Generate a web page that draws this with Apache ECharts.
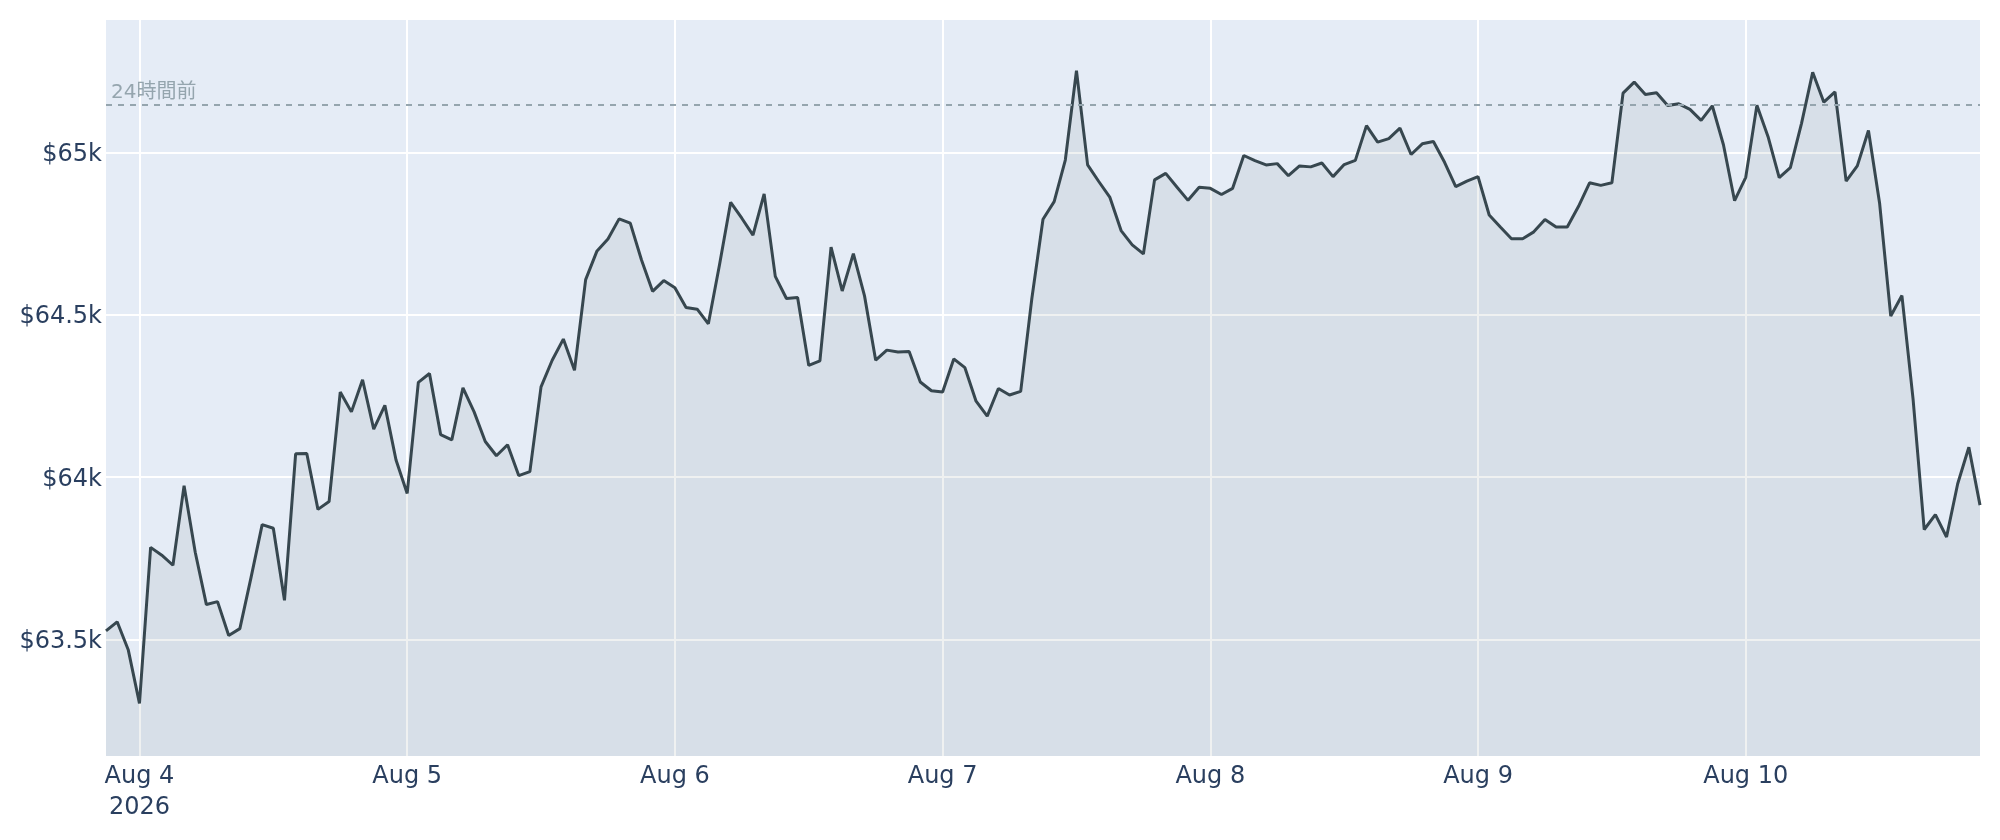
<!DOCTYPE html>
<html>
<head>
<meta charset="utf-8">
<script src="https://cdn.jsdelivr.net/npm/echarts@6/dist/echarts.min.js"></script>
<style>
html,body{margin:0;padding:0;background:#fff;}
#chart{width:2000px;height:840px;}
</style>
</head>
<body>
<div id="chart"></div>
<script>
// hourly prices, first point = Aug 3 2026 21:00 (hour -3 relative to Aug 4 00:00)
const START_HOUR = -3;
const prices = [
  63527, 63555, 63468,
  // Aug 4
  63304, 63784, 63760, 63729, 63974, 63769, 63608, 63617, 63513, 63534, 63691, 63854,
  63843, 63621, 64072, 64073, 63901, 63925, 64262, 64201, 64300, 64148, 64221, 64053,
  // Aug 5
  63950, 64292, 64319, 64131, 64115, 64275, 64201, 64110, 64066, 64100, 64005, 64017,
  64278, 64360, 64425, 64329, 64608, 64695, 64733, 64795, 64782, 64669, 64572, 64605,
  // Aug 6
  64583, 64522, 64517, 64472, 64654, 64846, 64797, 64745, 64872, 64618, 64550, 64553,
  64344, 64358, 64708, 64573, 64688, 64558, 64360, 64391, 64385, 64387, 64293, 64266,
  // Aug 7
  64262, 64364, 64337, 64234, 64188, 64273, 64253, 64264, 64550, 64794, 64848, 64976,
  65251, 64961, 64910, 64861, 64759, 64715, 64687, 64915, 64935, 64893, 64852, 64892,
  // Aug 8
  64889, 64870, 64889, 64990, 64974, 64961, 64965, 64928, 64958, 64955, 64967, 64925,
  64962, 64975, 65082, 65031, 65042, 65074, 64993, 65026, 65033, 64969, 64894, 64911,
  // Aug 9
  64925, 64807, 64770, 64734, 64734, 64755, 64793, 64770, 64770, 64833, 64906, 64898,
  64906, 65182, 65216, 65178, 65183, 65144, 65149, 65132, 65098, 65143, 65023, 64851,
  // Aug 10
  64923, 65145, 65048, 64922, 64953, 65089, 65246, 65154, 65186, 64911, 64958, 65067,
  64843, 64496, 64559, 64240, 63839, 63885, 63816, 63980, 64092, 63914
];
const dayTickHours = [0, 24, 48, 72, 96, 120, 144];
const dayTickLabels = ['Aug 4\n2026', 'Aug 5', 'Aug 6', 'Aug 7', 'Aug 8', 'Aug 9', 'Aug 10'];
const priceTicks = [63500, 64000, 64500, 65000];
const refPrice = 65145;
const refLabel = '24時間前';
const yMin = 63142, yMax = 65407;

const seriesData = prices.map((p, i) => [START_HOUR + i, p]);
const xMin = START_HOUR, xMax = START_HOUR + prices.length - 1;

const FONT = "'DejaVu Sans', 'Noto Sans CJK JP', sans-serif";
const chart = echarts.init(document.getElementById('chart'), null, {renderer: 'canvas'});
chart.setOption({
  animation: false,
  backgroundColor: '#ffffff',
  grid: {
    left: 106, right: 20, top: 20, bottom: 84,
    show: true, backgroundColor: '#E5ECF6', borderWidth: 0
  },
  xAxis: {
    type: 'value',
    min: xMin, max: xMax,
    axisLine: {show: false},
    axisTick: {show: false, customValues: dayTickHours},
    splitLine: {show: true, lineStyle: {color: '#ffffff', width: 2}},
    axisLabel: {
      customValues: dayTickHours,
      margin: 5,
      color: '#2a3f5f',
      fontSize: 24,
      lineHeight: 31,
      fontFamily: FONT,
      formatter: function (v) {
        const idx = dayTickHours.indexOf(v);
        return idx >= 0 ? dayTickLabels[idx] : '';
      }
    }
  },
  yAxis: {
    type: 'value',
    min: yMin, max: yMax,
    axisLine: {show: false},
    axisTick: {show: false, customValues: priceTicks},
    splitLine: {show: true, lineStyle: {color: '#ffffff', width: 2}},
    axisLabel: {
      customValues: priceTicks,
      margin: 4,
      color: '#2a3f5f',
      fontSize: 24,
      fontFamily: FONT,
      verticalAlign: 'top',
      lineHeight: 5,
      formatter: function (v) { return '$' + (v / 1000) + 'k'; }
    }
  },
  series: [{
    type: 'line',
    data: seriesData,
    showSymbol: false,
    symbol: 'none',
    lineStyle: {color: '#37474f', width: 3},
    areaStyle: {color: 'rgba(55,71,79,0.115)'},
    markLine: {
      silent: true,
      symbol: ['none', 'none'],
      lineStyle: {color: '#95a5ae', type: [6, 6], width: 2},
      label: {
        show: true,
        position: 'insideStartTop',
        formatter: refLabel,
        color: '#95a5ae',
        fontSize: 20,
        fontFamily: FONT,
        distance: [5, 2]
      },
      data: [{yAxis: refPrice}]
    }
  }]
});
</script>
</body>
</html>
